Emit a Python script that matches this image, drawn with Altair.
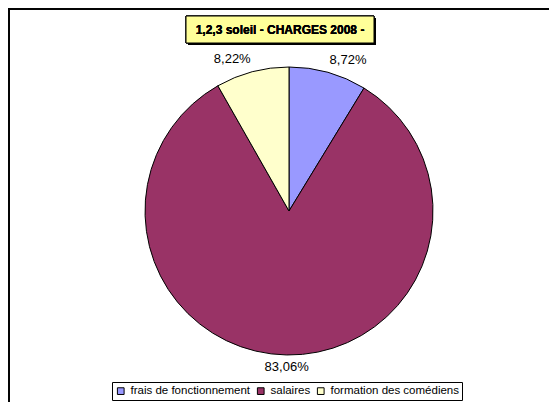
import altair as alt
import pandas as pd

categories = ["frais de fonctionnement", "salaires", "formation des comédiens"]
values = [8.72, 83.06, 8.22]
labels = ["8,72%", "83,06%", "8,22%"]
colors = ["#9999FF", "#993366", "#FFFFCC"]
title_text = "1,2,3 soleil  - CHARGES 2008 -"

df = pd.DataFrame({"cat": categories, "value": values, "label": labels, "idx": list(range(len(values)))})

TAU = 6.283185307179586
CX, CY, R = 281, 203, 144

base = alt.Chart(df).transform_joinaggregate(
    total="sum(value)"
).transform_window(
    cum="sum(value)", sort=[alt.SortField("idx")], frame=[None, 0]
).transform_calculate(
    t0=f"(datum.cum - datum.value) / datum.total * {TAU}",
    t1=f"datum.cum / datum.total * {TAU}",
    tm=f"(datum.cum - datum.value / 2) / datum.total * {TAU}",
)

pie = base.mark_arc(stroke="black", strokeWidth=1, outerRadius=R).encode(
    x=alt.value(CX), y=alt.value(CY),
    theta=alt.Theta("t0:Q", scale=None),
    theta2="t1:Q",
    color=alt.Color("cat:N", scale=alt.Scale(domain=categories, range=colors),
                    sort=categories, legend=alt.Legend(title=None)),
)

def lab(i, align, baseline):
    return base.transform_filter(f"datum.idx == {i}").mark_text(
        radius=R + 6, align=align, baseline=baseline,
        font="Liberation Sans", fontSize=13, color="black"
    ).encode(
        x=alt.value(CX), y=alt.value(CY),
        theta=alt.Theta("tm:Q", scale=None),
        text="label:N",
    )

labs = lab(0, "left", "bottom") + lab(1, "center", "top") + lab(2, "right", "bottom")

border_top = alt.Chart(df).mark_rule(color="black", strokeWidth=1.5).encode(
    x=alt.value(0), x2=alt.value(541), y=alt.value(1))
border_left = alt.Chart(df).mark_rule(color="black", strokeWidth=1.5).encode(
    x=alt.value(1), y=alt.value(0), y2=alt.value(394))

shadow = alt.Chart(df).mark_rect(fill="black").encode(
    x=alt.value(180), x2=alt.value(368), y=alt.value(10), y2=alt.value(37))
box = alt.Chart(df).mark_rect(fill="#FFFF99", stroke="black", strokeWidth=1).encode(
    x=alt.value(178), x2=alt.value(366), y=alt.value(8), y2=alt.value(35))
ttl = alt.Chart(df).mark_text(font="Liberation Sans", fontSize=12, fontWeight="bold",
                              color="black", align="center", baseline="middle").encode(
    x=alt.value(272), y=alt.value(22), text=alt.value(title_text))

chart = alt.layer(border_top, border_left, pie, labs, shadow, box, ttl).properties(
    width=541, height=394, padding=0, autosize=alt.AutoSizeParams(type="none")
).configure_view(
    stroke=None
).configure_legend(
    orient="none", legendX=104, legendY=374, direction="horizontal",
    strokeColor="black", fillColor="white", padding=3,
    symbolType="square", symbolSize=45, symbolStrokeColor="black", symbolStrokeWidth=1,
    labelFont="Liberation Sans", labelFontSize=11.5, labelColor="black",
    labelOffset=4, columnPadding=4, labelLimit=300,
)

chart.save("out.html", embed_options={"renderer": "svg", "actions": False})
